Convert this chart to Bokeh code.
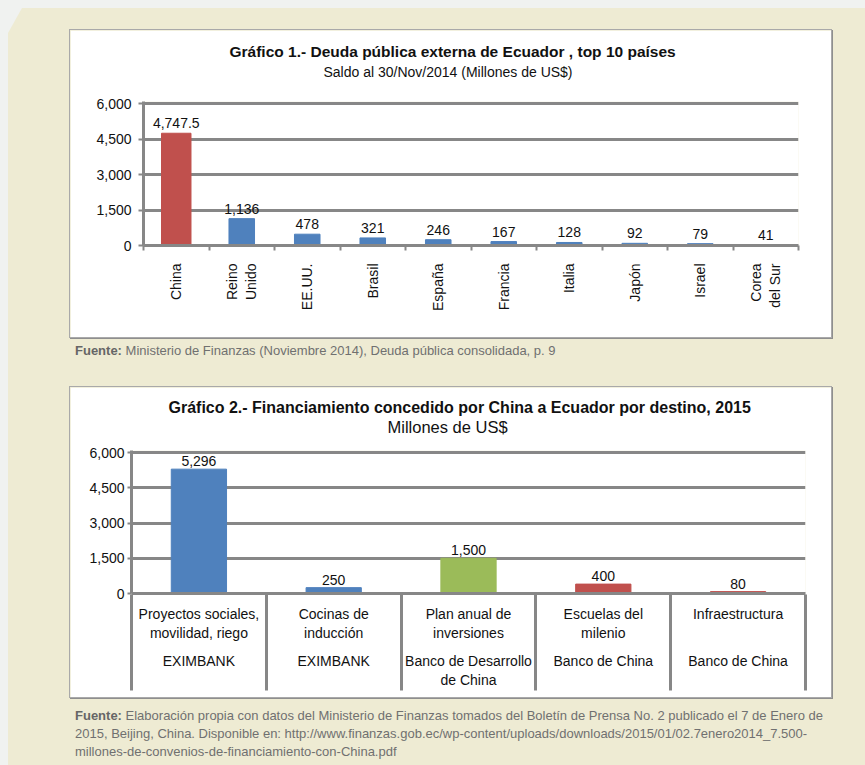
import numpy as np
from bokeh.plotting import figure
from bokeh.core.properties import value
from bokeh.models import (ColumnDataSource, Range1d, FixedTicker, NumeralTickFormatter,
                          LinearAxis, LabelSet, Title, Div, Grid, GlobalInlineStyleSheet)
from bokeh.layouts import column
from bokeh.embed import file_html
from bokeh.resources import INLINE

# ---------------- data ----------------
paises = ["China", "Reino\nUnido", "EE.UU.", "Brasil", "España", "Francia",
          "Italia", "Japón", "Israel", "Corea\ndel Sur"]
deuda = [4747.5, 1136, 478, 321, 246, 167, 128, 92, 79, 41]

destinos = ["Proyectos sociales,\nmovilidad, riego", "Cocinas de\ninducción",
            "Plan anual de\ninversiones", "Escuelas del\nmilenio", "Infraestructura"]
bancos = ["EXIMBANK", "EXIMBANK", "Banco de Desarrollo\nde China",
          "Banco de China", "Banco de China"]
financiamiento = [5296, 250, 1500, 400, 80]

y_ticks = [0, 1500, 3000, 4500, 6000]

titulo1 = "Gráfico 1.- Deuda pública externa de Ecuador , top 10 países"
subtitulo1 = "Saldo al 30/Nov/2014 (Millones de US$)"
titulo2 = "Gráfico 2.- Financiamiento concedido por China a Ecuador por destino, 2015"
subtitulo2 = "Millones de US$"
fuente1 = "Ministerio de Finanzas (Noviembre 2014), Deuda pública consolidada, p. 9"
fuente2 = ["Elaboración propia con datos del Ministerio de Finanzas tomados del Boletín de Prensa No. 2 publicado el 7 de Enero de",
           "2015, Beijing, China. Disponible en: http://www.finanzas.gob.ec/wp-content/uploads/downloads/2015/01/02.7enero2014_7.500-",
           "millones-de-convenios-de-financiamiento-con-China.pdf"]

# ---------------- style ----------------
FONT = "Liberation Sans"
GRID = "#878787"
TXT = "#111111"
RED = "#C0504D"
BLUE = "#4F81BD"
GREEN = "#9BBB59"
BEIGE = "#EEEBD3"
bank_color = {"EXIMBANK": BLUE, "Banco de Desarrollo\nde China": GREEN, "Banco de China": RED}


def spacer_axis(size, edge):
    # invisible axis (one white tick on the white border, empty label) used as a vertical gap
    ax = LinearAxis(ticker=FixedTicker(ticks=[edge]))
    ax.major_label_overrides = {edge: ""}
    ax.axis_line_color = None
    ax.major_tick_line_color = "white"
    ax.minor_tick_line_color = None
    ax.major_tick_out = size
    ax.major_tick_in = 0
    ax.minor_tick_out = 0
    ax.minor_tick_in = 0
    ax.major_label_standoff = 0
    ax.major_label_text_font_size = "1px"
    return ax


def base_fig(n, height, left, right, top, bottom, title, subtitle,
             t_off, s_off, s_standoff, gap, t_size, s_size):
    p = figure(width=761, height=height, x_range=Range1d(-0.5, n - 0.5),
               y_range=Range1d(0, 6090), output_backend="svg", toolbar_location=None,
               title=None, min_border_left=left, min_border_right=right,
               min_border_top=top, min_border_bottom=bottom,
               background_fill_color="white", border_fill_color="white",
               outline_line_color=None, x_axis_type=None, y_axis_type=None)
    p.frame_align = False
    p.add_layout(spacer_axis(gap, -0.5), "above")
    p.add_layout(Title(text=subtitle, align="left", text_font=FONT, text_font_size=s_size,
                       text_font_style="normal", text_color=TXT, offset=s_off,
                       standoff=s_standoff), "above")
    p.add_layout(Title(text=title, align="left", text_font=FONT, text_font_size=t_size,
                       text_font_style="bold", text_color=TXT, offset=t_off,
                       standoff=0), "above")
    yax = LinearAxis(ticker=FixedTicker(ticks=y_ticks),
                     formatter=NumeralTickFormatter(format="0,0"))
    yax.axis_line_color = GRID
    yax.axis_line_width = 3
    yax.major_tick_line_color = GRID
    yax.major_tick_line_width = 2
    yax.major_tick_in = 0
    yax.minor_tick_line_color = None
    yax.major_label_text_font = FONT
    yax.major_label_text_font_size = "14px"
    yax.major_label_text_color = TXT
    p.add_layout(yax, "left")
    p.add_layout(Grid(dimension=1, ticker=FixedTicker(ticks=y_ticks), grid_line_color=GRID,
                      grid_line_width=3))
    return p, yax


def label_axis(ticks, labels, standoff, minor=None, minor_out=0, minor_in=0, line=False):
    ax = LinearAxis(ticker=FixedTicker(ticks=ticks, minor_ticks=minor or []))
    ax.major_label_overrides = {i: t for i, t in zip(ticks, labels)}
    ax.axis_line_color = GRID if line else None
    ax.axis_line_width = 3
    ax.major_tick_line_color = None
    ax.major_tick_out = 0
    ax.major_tick_in = 0
    ax.minor_tick_line_color = GRID if minor else None
    ax.minor_tick_out = minor_out
    ax.minor_tick_in = minor_in
    ax.major_label_standoff = standoff
    ax.major_label_text_font = FONT
    ax.major_label_text_font_size = "14px"
    ax.major_label_text_color = TXT
    return ax


# ---------------- chart 1 ----------------
n1 = len(paises)
x1 = list(range(n1))
bounds1 = [i - 0.5 for i in range(n1 + 1)]
src1 = ColumnDataSource(dict(
    x=x1, top=deuda,
    w=[0.45 if c == "China" else 0.39 for c in paises],
    color=[RED if c == "China" else BLUE for c in paises],
    label=[f"{v:,}" for v in deuda]))

p1, y1 = base_fig(n1, 307, 73, 33, 71, 92, titulo1, subtitulo1, 86, 180, 5, 19,
                  "15.5px", "14px")
y1.major_tick_out = 5
y1.major_label_standoff = 7
p1.vbar(x="x", top="top", width="w", color="color", source=src1)
p1.add_layout(LabelSet(x="x", y="top", text="label", source=src1,
                       text_align=value("center"), text_baseline=value("bottom"), y_offset=5,
                       text_font=value(FONT), text_font_size=value("14px"),
                       text_color=value(TXT)))
xa1 = label_axis(x1, paises, 13, minor=bounds1, minor_out=5, line=True)
xa1.minor_tick_line_width = 2
xa1.major_label_orientation = np.pi / 2
p1.add_layout(xa1, "below")

# ---------------- chart 2 ----------------
n2 = len(destinos)
x2 = list(range(n2))
bounds2 = [i - 0.5 for i in range(n2 + 1)]
src2 = ColumnDataSource(dict(
    x=x2, top=financiamiento,
    color=[bank_color[b] for b in bancos],
    label=[f"{v:,}" for v in financiamiento]))

p2, y2 = base_fig(n2, 310, 61, 26, 63, 104, titulo2, subtitulo2, 37, 256, 1, 14,
                  "16px", "16.5px")
y2.major_tick_out = 4
y2.major_label_standoff = 3
p2.vbar(x="x", top="top", width=0.41, color="color", source=src2)
p2.add_layout(LabelSet(x="x", y="top", text="label", source=src2,
                       text_align=value("center"), text_baseline=value("bottom"), y_offset=3,
                       text_font=value(FONT), text_font_size=value("14px"),
                       text_color=value(TXT)))
xa2 = label_axis(x2, destinos, 12, line=True)
p2.add_layout(xa2, "below")
xb2 = label_axis(x2, bancos, 9)
p2.add_layout(xb2, "below")
xc2 = label_axis([], [], 0, minor=bounds2, minor_in=96)
xc2.minor_tick_line_width = 3
p2.add_layout(xc2, "below")

box = {"box-shadow": "0 0 0 1px #a9a9a9, 1px 1px 0 1px #8e8e8e"}
p1.styles = box
p2.styles = box

# ---------------- notes ----------------
note_style = {"font-family": FONT, "font-size": "13px", "color": "#707070",
              "line-height": "18px"}
d1 = Div(text=f"<b style='color:#666'>Fuente:</b> {fuente1}", width=780, height=18,
         margin=(5, 0, 0, 75), styles=note_style)
d2 = Div(text=f"<b style='color:#666'>Fuente:</b> " + "<br>".join(fuente2), width=780,
         height=54, margin=(10, 0, 0, 75), styles=note_style)

p1.margin = (30, 0, 0, 70)
p2.margin = (27, 0, 0, 70)

page = column(p1, d1, p2, d2, width=865, height=765, spacing=0,
              styles={"background-color": BEIGE,
                      "clip-path": "polygon(22px 8px, 100% 8px, 100% 100%, 8px 100%, 8px 33px)"},
              stylesheets=[GlobalInlineStyleSheet(
                  css="html, body { background-color: #F0F2F0; margin: 0; padding: 0; }")])

open("out.html", "w").write(file_html(page, INLINE))
